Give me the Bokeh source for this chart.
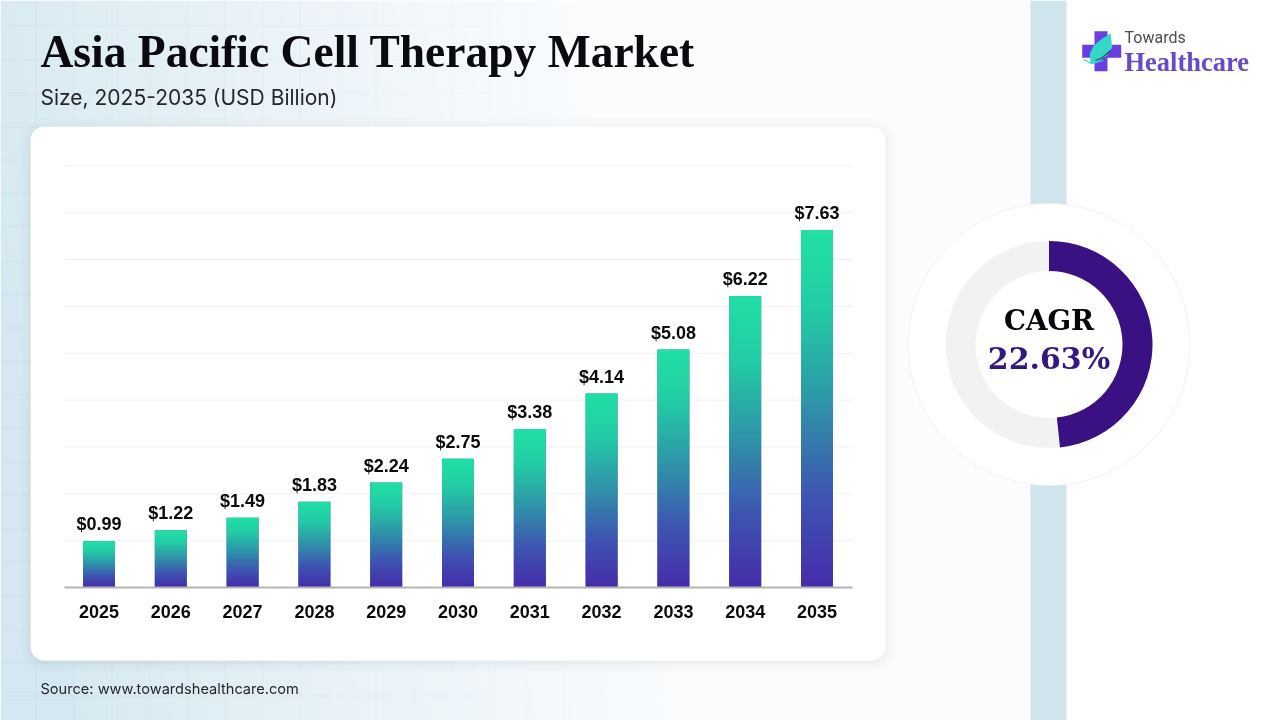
import numpy as np
from bokeh.core.properties import value
from bokeh.plotting import figure
from bokeh.models import ColumnDataSource, FixedTicker, Range1d
from bokeh.embed import file_html
from bokeh.resources import INLINE

# ---- data ----
years = [2025, 2026, 2027, 2028, 2029, 2030, 2031, 2032, 2033, 2034, 2035]
year_labels = ["2025", "2026", "2027", "2028", "2029", "2030", "2031", "2032", "2033", "2034", "2035"]
market_size = [0.99, 1.22, 1.49, 1.83, 2.24, 2.75, 3.38, 4.14, 5.08, 6.22, 7.63]
value_labels = ["$0.99", "$1.22", "$1.49", "$1.83", "$2.24", "$2.75", "$3.38", "$4.14", "$5.08", "$6.22", "$7.63"]
grid_values = [1, 2, 3, 4, 5, 6, 7, 8, 9]
cagr_label = "22.63%"
ring_share = [0.483]

TITLE = "Asia Pacific Cell Therapy Market"
SUBTITLE = "Size, 2025-2035 (USD Billion)"
SOURCE = "Source: www.towardshealthcare.com"

# ---- page geometry: the canvas shows the whole 1280x720 image ----
X0, X1, Y0, Y1 = 0, 1280, 0, 720
W, H = X1 - X0, Y1 - Y0
PX_PER_YEAR = 71.8
PX_PER_UNIT = 46.85
YEAR0_PX = 98.5
BASE_PX = 587


def yr(px):
    return years[0] + (px - YEAR0_PX) / PX_PER_YEAR


def val(py):
    return (BASE_PX - py) / PX_PER_UNIT


def Y(py):
    return 720 - np.asarray(py, dtype=float)


p = figure(width=W, height=H, output_backend="svg", toolbar_location=None,
           x_range=Range1d(yr(X0), yr(X1)), y_range=Range1d(val(Y1), val(Y0)),
           min_border=0, min_border_left=0, min_border_right=0, min_border_top=0, min_border_bottom=0,
           outline_line_color=None, background_fill_color="white", border_fill_color="white",
           styles={"position": "fixed", "left": "0", "top": "0"})
p.extra_x_ranges = {"px": Range1d(X0, X1)}
p.extra_y_ranges = {"py": Range1d(720 - Y1, 720 - Y0)}
px = dict(x_range_name="px", y_range_name="py")
p.xgrid.visible = False
p.ygrid.visible = False
p.yaxis.visible = False


def label(x, baseline, text, font, size, color, bold=False, align="left"):
    p.text(x=[x], y=Y([baseline - 0.41 * size]), text=[text], text_font=value(font),
           text_font_style="bold" if bold else "normal", text_font_size=f"{size}px",
           text_color=color, text_align=align, text_baseline="alphabetic", **px)


# ---- page background ----
xx, yy = np.meshgrid(np.arange(X0, X1), np.arange(Y0, Y1))
t = np.clip(xx / 620 - (yy - 300) / 4000, 0, 1) ** 0.8
left = np.array([213, 232, 241.0])
right = np.array([250, 252, 254.0])
rgb = left[None, None, :] * (1 - t[..., None]) + right[None, None, :] * t[..., None]
fade = np.clip(1 - xx / 650, 0, 1)
line_mask = (((xx - 35) % 37.7) < 1.0) + (((yy - 25) % 33.5) < 1.0)
line_mask = np.clip(line_mask * 1.0, 0, 1) * fade * 0.09
rgb = rgb * (1 - line_mask[..., None]) + np.array([120, 150, 170.0])[None, None, :] * line_mask[..., None]
rgb[(xx >= 1030) & (xx < 1066)] = [207, 228, 237]
rgb[xx >= 1066] = [255, 255, 255]
bg = np.zeros((H, W), dtype=np.uint32)
view = bg.view(dtype=np.uint8).reshape((H, W, 4))
view[..., 0:3] = rgb[::-1].astype(np.uint8)
view[..., 3] = 255
p.image_rgba(image=[bg], x=X0, y=720 - Y1, dw=W, dh=H, level="image", **px)

# ---- white card with soft shadow ----
for grow, alpha in [(10, 0.010), (7, 0.013), (4, 0.018), (2, 0.024)]:
    p.quad(left=30 - grow, right=885 + grow, top=Y(126 - grow + 2), bottom=Y(660 + grow + 2),
           border_radius=14 + grow, fill_color="#506478", fill_alpha=alpha, line_color=None,
           level="image", **px)
p.quad(left=30, right=885, top=Y(126), bottom=Y(660), border_radius=14,
       fill_color="white", line_color=None, level="image", **px)

# ---- chart: grid, bars, labels, axis ----
p.segment(x0=[yr(64)] * len(grid_values), x1=[yr(852)] * len(grid_values), y0=grid_values, y1=grid_values,
          line_color="#f1f1f3", line_width=1, level="underlay")

bar_width = 32 / PX_PER_YEAR
stops = np.array([[0, 33, 224, 165], [0.22, 35, 205, 165], [0.5, 48, 145, 170],
                  [0.75, 62, 85, 178], [1, 70, 45, 170]], dtype=float)
rows = np.linspace(1, 0, 128)  # row 0 is the bottom of the bar
grad = np.zeros((128, 1), dtype=np.uint32)
gview = grad.view(dtype=np.uint8).reshape((128, 1, 4))
for c in range(3):
    gview[:, 0, c] = np.interp(rows, stops[:, 0], stops[:, c + 1]).astype(np.uint8)
gview[:, 0, 3] = 255

src = ColumnDataSource(dict(year=years, value=market_size, label=value_labels))
p.vbar(x="year", top="value", bottom=0, width=bar_width, source=src, fill_color="#3f6fae", line_color=None)
p.image_rgba(image=[grad] * len(years), x=[y - bar_width / 2 for y in years], y=[0] * len(years),
             dw=[bar_width] * len(years), dh=market_size)
p.text(x="year", y="value", text="label", source=src, text_align="center", text_baseline="bottom",
       y_offset=-7, text_font=value("Liberation Sans"), text_font_style="bold", text_font_size="18px",
       text_color="#0b0b0f")

ax = p.xaxis[0]
ax.fixed_location = 0
ax.bounds = (yr(64), yr(852))
ax.ticker = FixedTicker(ticks=years)
ax.major_label_overrides = dict(zip(years, year_labels))
ax.major_tick_line_color = None
ax.minor_tick_line_color = None
ax.axis_line_color = "#b4b4b8"
ax.axis_line_width = 2
ax.major_label_standoff = 11
ax.major_label_text_font = "Liberation Sans"
ax.major_label_text_font_style = "bold"
ax.major_label_text_font_size = "18px"
ax.major_label_text_color = "#0b0b0f"

# ---- titles ----
label(40, 70, TITLE, "Liberation Serif", 45.5, "#0a0a0f", bold=True)
label(40, 106, SUBTITLE, "Inter", 21, "#24262c")
label(40, 694.5, SOURCE, "Inter", 14.6, "#24262c")

# ---- CAGR dial ----
cx, cy = 1048.5, 344
p.circle(x=[cx], y=Y([cy]), radius=141, fill_color="white", line_color="#eef2f4", line_width=1, **px)
p.annular_wedge(x=[cx], y=Y([cy]), inner_radius=73.5, outer_radius=103.5, start_angle=0, end_angle=2 * np.pi,
                fill_color="#f3f2f3", line_color=None, **px)
p.annular_wedge(x=[cx], y=Y([cy]), inner_radius=73.5, outer_radius=103.5,
                start_angle=np.pi / 2 - 2 * np.pi * ring_share[0], end_angle=np.pi / 2,
                fill_color="#3a1183", line_color=None, **px)
label(cx, 331, "CAGR", "DejaVu Serif", 27.7, "#08080c", bold=True, align="center")
label(cx, 370, cagr_label, "DejaVu Serif", 30, "#35187f", bold=True, align="center")

# ---- logo ----
p.quad(left=[1094], right=[1107], top=Y([30.7]), bottom=Y([70.7]), fill_color="#6a3fe0", line_color=None, **px)
p.quad(left=[1081.7], right=[1120.7], top=Y([44.3]), bottom=Y([57.3]), fill_color="#6a3fe0", line_color=None, **px)
p.patch(x=[1110, 1111.7, 1106.7, 1095, 1090, 1089.3, 1093.3, 1101.7],
        y=Y([32.7, 46.7, 55, 62.7, 63.3, 53.3, 45, 38.3]), fill_color="#34d8c8", line_color=None, **px)
p.line(x=[1095, 1102, 1110], y=Y([60, 57, 50]), line_color="#1b4f63", line_width=1.2, **px)
p.line(x=[1083, 1091, 1103], y=Y([59, 63, 60]), line_color="#34d8c8", line_width=1.2, **px)
label(1124, 43.3, "Towards", "Roboto", 16, "#4b4b52")
label(1124, 72.5, "Healthcare", "Liberation Serif", 26.5, "#6a49c6", bold=True)

open("out.html", "w").write(file_html(p, INLINE))
